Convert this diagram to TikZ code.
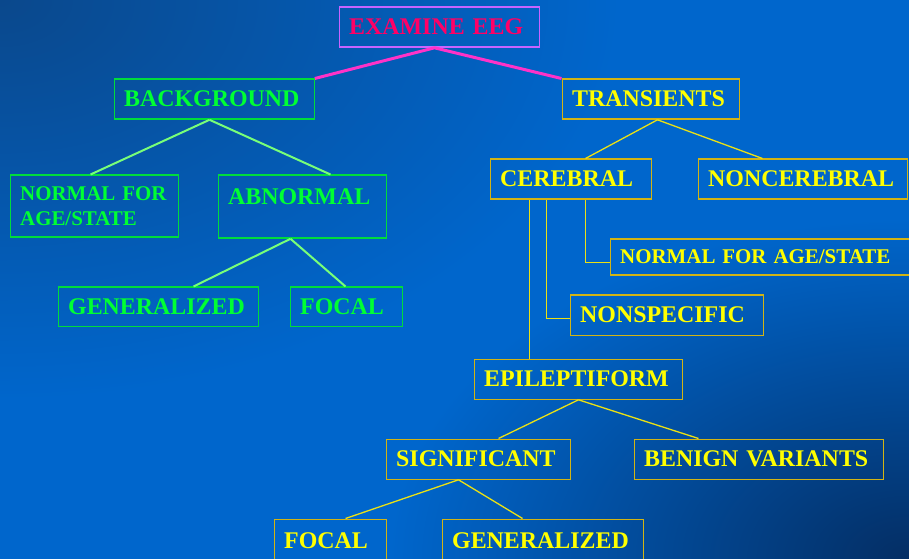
\documentclass[tikz,border=0pt]{standalone}
\usepackage{fontspec}
\setmainfont{Liberation Serif}
\usetikzlibrary{calc}
\definecolor{bgdark}{RGB}{10,72,140}
\definecolor{bgmid}{RGB}{0,102,204}
\definecolor{bgdark2}{RGB}{4,46,100}
\definecolor{gtext}{RGB}{0,255,51}
\definecolor{gborder}{RGB}{0,220,60}
\definecolor{gline}{RGB}{120,255,120}
\definecolor{ytext}{RGB}{255,255,0}
\definecolor{yborder}{RGB}{210,180,20}
\definecolor{yline}{RGB}{235,225,20}
\definecolor{ptext}{RGB}{255,0,102}
\definecolor{pborder}{RGB}{200,100,255}
\definecolor{pline}{RGB}{255,50,200}
\tikzset{
  basebox/.style={line width=1.3bp, inner xsep=10bp, inner ysep=0pt, align=left,
    anchor=north west, font=\bfseries\fontsize{24}{29}\selectfont},
  gbox/.style={basebox, draw=gborder, text=gtext},
  ybox/.style={basebox, draw=yborder, text=ytext},
  pbox/.style={basebox, draw=pborder, text=ptext},
  sz/.style n args={2}{minimum width=#1bp, text width=#1bp-20bp, minimum height=#2bp},
  small/.style={font=\bfseries\fontsize{21}{26}\selectfont},
  gconn/.style={draw=gline, line width=2bp},
  yconn/.style={draw=yline, line width=1.3bp},
  pconn/.style={draw=pline, line width=3bp}
}
\begin{document}
\begin{tikzpicture}[x=1bp,y=-1bp]
\useasboundingbox (0,0) rectangle (909,559);
\fill[bgmid] (0,0) rectangle (909,559);
\begin{scope}
  \clip (0,0) rectangle (909,559);
  \shade[inner color=bgdark, outer color=bgmid] (0,0) ellipse (620 and 400);
  \shade[inner color=bgdark2, outer color=bgmid] (909,559) ellipse (520 and 340);
\end{scope}

\begin{scope}[shift={(0.5,0.5)}]
\node[pbox, sz={200}{40}] (ex) at (338,6) {EXAMINE EEG};
\node[gbox, sz={200}{40}] (bg) at (113,78) {BACKGROUND};
\node[ybox, sz={177}{40}] (tr) at (561,78) {TRANSIENTS};
\node[gbox, small, sz={168}{62}] (nl) at (9,174) {NORMAL FOR\\AGE/STATE};
\node[gbox, minimum width=168bp, text width=148bp, text height=29bp, text depth=34bp] (abn) at (217,174) {ABNORMAL};
\node[gbox, sz={200}{39}] (gg) at (57,286) {GENERALIZED};
\node[gbox, sz={112}{39}] (gf) at (289,286) {FOCAL};
\node[ybox, sz={161}{40}] (cer) at (489,158) {CEREBRAL};
\node[ybox, sz={209}{40}] (nc) at (697,158) {NONCEREBRAL};
\node[ybox, small, sz={320}{36}] (nr) at (609,238) {NORMAL FOR AGE/STATE};
\node[ybox, sz={193}{40}] (ns) at (569,294) {NONSPECIFIC};
\node[ybox, sz={208}{40}] (epi) at (473,358) {EPILEPTIFORM};
\node[ybox, sz={184}{40}] (sig) at (385,438) {SIGNIFICANT};
\node[ybox, sz={249}{40}] (ben) at (633,438) {BENIGN VARIANTS};
\node[ybox, sz={112}{43}] (yf) at (273,518) {FOCAL};
\node[ybox, sz={201}{43}] (yg) at (441,518) {GENERALIZED};

% pink connectors
\draw[pconn] (bg.north east) -- ($(ex.south west)+(96,0)$) -- (tr.north west);
% green connectors
\coordinate (bgb) at ($(bg.south west)+(96,0)$);
\draw[gconn] (bgb) -- ($(nl.north west)+(81,0)$);
\draw[gconn] (bgb) -- ($(abn.north west)+(113,0)$);
\coordinate (abnb) at ($(abn.south west)+(73,0)$);
\draw[gconn] (abnb) -- ($(gg.north west)+(136,0)$);
\draw[gconn] (abnb) -- ($(gf.north west)+(56,0)$);
% yellow connectors
\coordinate (trb) at ($(tr.south west)+(96,0)$);
\draw[yconn] (trb) -- ($(cer.north west)+(96,0)$);
\draw[yconn] (trb) -- ($(nc.north west)+(65,0)$);
\draw[yconn] ($(cer.south west)+(96,0)$) |- ($(nr.north west)+(0,24)$);
\draw[yconn] ($(cer.south west)+(57,0)$) |- ($(ns.north west)+(0,24)$);
\coordinate (cerl) at ($(cer.south west)+(40,0)$);
\draw[yconn] (cerl) -- (cerl |- epi.north);
\coordinate (epib) at ($(epi.south west)+(105,0)$);
\draw[yconn] (epib) -- ($(sig.north west)+(113,0)$);
\draw[yconn] (epib) -- ($(ben.north west)+(65,0)$);
\coordinate (sigb) at ($(sig.south west)+(73,0)$);
\draw[yconn] (sigb) -- ($(yf.north west)+(72,0)$);
\draw[yconn] (sigb) -- ($(yg.north west)+(81,0)$);
\end{scope}
\end{tikzpicture}
\end{document}
